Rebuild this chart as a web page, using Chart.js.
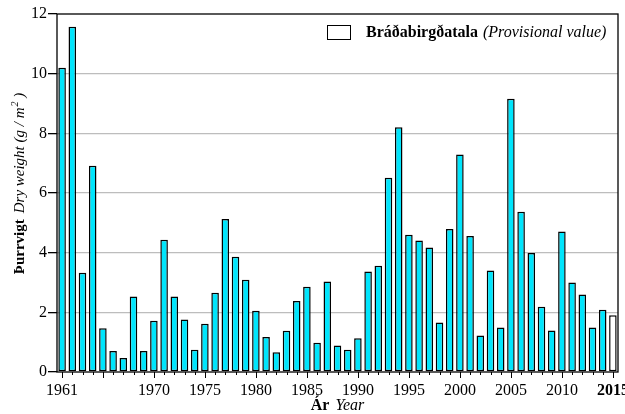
<!DOCTYPE html>
<html>
<head>
<meta charset="utf-8">
<script src="https://cdn.jsdelivr.net/npm/chart.js@4.4.0/dist/chart.umd.min.js"></script>
<style>
html, body { margin: 0; padding: 0; background: #fff; }
</style>
</head>
<body>
<canvas id="ChartDryWeight" width="625" height="414"></canvas>
<script>
// Ár / Year
const years = [1961, 1962, 1963, 1964, 1965, 1966, 1967, 1968, 1969, 1970,
    1971, 1972, 1973, 1974, 1975, 1976, 1977, 1978, 1979, 1980,
    1981, 1982, 1983, 1984, 1985, 1986, 1987, 1988, 1989, 1990,
    1991, 1992, 1993, 1994, 1995, 1996, 1997, 1998, 1999, 2000,
    2001, 2002, 2003, 2004, 2005, 2006, 2007, 2008, 2009, 2010,
    2011, 2012, 2013, 2014, 2015];

// Þurrvigt / Dry weight (g/m2)
const dryWeight = [10.2, 11.57, 3.33, 6.91, 1.47, 0.70, 0.47, 2.53, 0.70, 1.72,
    4.43, 2.53, 1.76, 0.75, 1.62, 2.66, 5.13, 3.86, 3.09, 2.05,
    1.17, 0.66, 1.38, 2.38, 2.86, 0.98, 3.03, 0.89, 0.75, 1.13,
    3.37, 3.56, 6.51, 8.20, 4.60, 4.41, 4.17, 1.66, 4.79, 7.29,
    4.56, 1.22, 3.40, 1.49, 9.16, 5.37, 3.99, 2.19, 1.39, 4.71,
    3.00, 2.60, 1.49, 2.09, 1.90];

const labelYears = [1961, 1970, 1975, 1980, 1985, 1990, 1995, 2000, 2005, 2010, 2015];
const longTickYears = [1961, 1965, 1970, 1975, 1980, 1985, 1990, 1995, 2000, 2005, 2010, 2015];
const provisionalYear = 2015;

const serif = '"Liberation Serif", "Times New Roman", serif';

// ramma, ásmerki, ásaheiti og skýringar
const extrasPlugin = {
    id: 'extras',
    afterDraw(chart) {
        const ctx = chart.ctx;
        const a = chart.chartArea;
        const xs = chart.scales.x;
        ctx.save();

        // ticks on x axis
        ctx.strokeStyle = '#000';
        ctx.lineWidth = 1;
        for (var i = 0; i < years.length; i++) {
            const px = Math.round(xs.getPixelForValue(i)) + 0.5;
            const len = longTickYears.includes(years[i]) ? 6 : 3;
            ctx.beginPath();
            ctx.moveTo(px, a.bottom);
            ctx.lineTo(px, a.bottom + len);
            ctx.stroke();
        }

        // frame
        ctx.lineWidth = 1.3;
        ctx.strokeRect(a.left, a.top, a.right - a.left, a.bottom - a.top);

        // x title
        ctx.fillStyle = '#000';
        ctx.textBaseline = 'alphabetic';
        const bold = 'bold 16px ' + serif;
        const ital = 'italic 16px ' + serif;
        ctx.font = bold;
        const w1 = ctx.measureText('Ár').width;
        ctx.font = ital;
        const w2 = ctx.measureText('Year').width;
        const gap = 6;
        let x0 = (a.left + a.right) / 2 - (w1 + gap + w2) / 2;
        ctx.font = bold;
        ctx.fillText('Ár', x0, 410);
        ctx.font = ital;
        ctx.fillText('Year', x0 + w1 + gap, 410);

        // y title
        const yb = 'bold 15px ' + serif;
        const yi = 'italic 15px ' + serif;
        ctx.save();
        ctx.translate(24, 184);
        ctx.rotate(-Math.PI / 2);
        ctx.font = yb;
        const t1 = ctx.measureText('Þurrvigt').width;
        ctx.font = yi;
        const t2 = ctx.measureText('Dry weight (g / m').width;
        ctx.font = 'italic 10px ' + serif;
        const t3 = ctx.measureText('2').width;
        ctx.font = yi;
        const t4 = ctx.measureText(' )').width;
        const total = t1 + gap + t2 + t3 + t4;
        let yx = -total / 2;
        ctx.font = yb;
        ctx.fillText('Þurrvigt', yx, 0);
        yx += t1 + gap;
        ctx.font = yi;
        ctx.fillText('Dry weight (g / m', yx, 0);
        yx += t2 + 1;
        ctx.font = 'italic 10px ' + serif;
        ctx.fillText('2', yx, -6);
        yx += t3;
        ctx.font = yi;
        ctx.fillText(' )', yx, 0);
        ctx.restore();

        // legend
        ctx.fillStyle = '#fff';
        ctx.fillRect(327, 25.5, 23, 14);
        ctx.lineWidth = 1;
        ctx.strokeStyle = '#000';
        ctx.strokeRect(327.5, 25.5, 23, 14);
        ctx.fillStyle = '#000';
        ctx.font = bold;
        ctx.fillText('Bráðabirgðatala', 366, 37);
        const lw = ctx.measureText('Bráðabirgðatala').width;
        ctx.font = ital;
        ctx.fillText('(Provisional value)', 366 + lw + 5, 37);

        ctx.restore();
    }
};

const data = {
    labels: years,
    datasets: [{
        label: 'Þurrvigt',
        data: dryWeight,
        backgroundColor: years.map(y => y === provisionalYear ? '#ffffff' : '#00e5fc'),
        borderColor: '#000000',
        borderWidth: 1.5,
        borderSkipped: false,
        categoryPercentage: 1.0,
        barPercentage: 0.74
    }]
};

const config = {
    type: 'bar',
    data: data,
    options: {
        responsive: false,
        animation: false,
        devicePixelRatio: 1,
        layout: {
            padding: { left: 0, right: 7, top: 14, bottom: 0 }
        },
        plugins: {
            legend: { display: false },
            tooltip: { enabled: false }
        },
        scales: {
            x: {
                type: 'category',
                grid: { display: false },
                border: { display: false },
                ticks: {
                    autoSkip: false,
                    maxRotation: 0,
                    minRotation: 0,
                    padding: 1,
                    color: '#000',
                    font: function (c) {
                        return {
                            family: serif,
                            size: 16,
                            weight: years[c.index] === provisionalYear ? 'bold' : 'normal'
                        };
                    },
                    callback: function (v, i) {
                        return labelYears.includes(years[i]) ? String(years[i]) : '';
                    }
                },
                afterFit: function (s) {
                    s.height = 42;
                    s.paddingLeft = 0;
                    s.paddingRight = 0;
                }
            },
            y: {
                min: 0,
                max: 12,
                border: { display: false },
                grid: {
                    color: function (c) {
                        return (c.tick.value === 0 || c.tick.value === 12) ? 'rgba(0,0,0,0)' : '#bdbdbd';
                    },
                    lineWidth: 1.3,
                    tickColor: '#000',
                    tickLength: 9,
                    drawTicks: true
                },
                ticks: {
                    stepSize: 2,
                    padding: 1,
                    color: '#000',
                    font: { family: serif, size: 16 }
                },
                afterFit: function (s) {
                    s.width = 57;
                }
            }
        }
    },
    plugins: [extrasPlugin]
};

const myChart = new Chart(
    document.getElementById('ChartDryWeight'),
    config
);
</script>
</body>
</html>
